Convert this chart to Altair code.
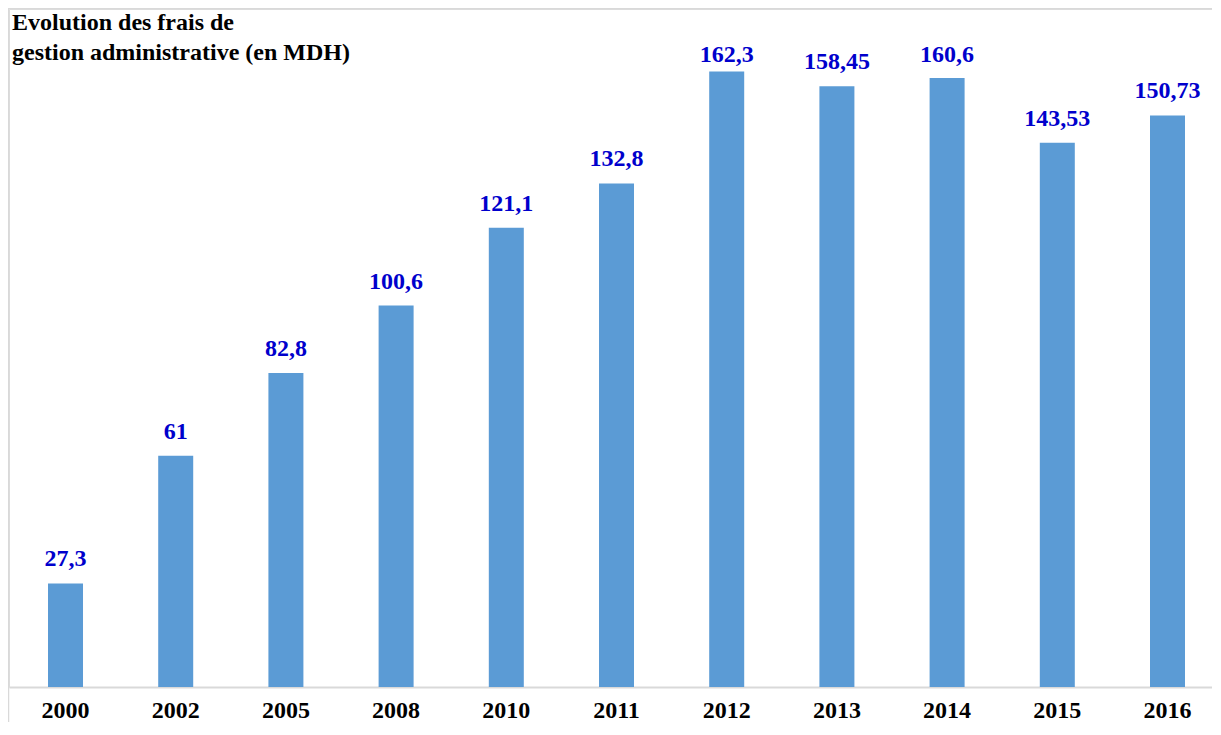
import altair as alt
import pandas as pd

years = ["2000", "2002", "2005", "2008", "2010", "2011", "2012", "2013", "2014", "2015", "2016"]
values = [27.3, 61, 82.8, 100.6, 121.1, 132.8, 162.3, 158.45, 160.6, 143.53, 150.73]
labels = ["27,3", "61", "82,8", "100,6", "121,1", "132,8", "162,3", "158,45", "160,6", "143,53", "150,73"]
title_lines = ["Evolution des frais de", "gestion administrative (en MDH)"]

df = pd.DataFrame({"year": years, "value": values, "label": labels})
one = pd.DataFrame({"k": [0]})

W, H = 1203, 678
FONT = "Liberation Serif"

xscale = alt.Scale(paddingInner=0.6824, paddingOuter=0.2995, align=0.591)
yscale = alt.Scale(domain=[0, 178.8], nice=False, zero=True)

base = alt.Chart(df)

bars = base.mark_bar(color="#5B9BD5").encode(
    x=alt.X("year:N", sort=years, scale=xscale,
            axis=alt.Axis(title=None, labelAngle=0, ticks=False, domain=True,
                          domainColor="#D9D9D9", domainWidth=2,
                          labelFont=FONT, labelFontSize=24, labelFontWeight="bold",
                          labelColor="black", labelBaseline="alphabetic", labelPadding=30,
                          grid=False)),
    y=alt.Y("value:Q", scale=yscale, axis=None),
)

texts = base.transform_calculate(
    ly="min(datum.value + 4.48, 164.8)"
).mark_text(
    font=FONT, fontSize=24, fontWeight="bold", color="#0000CC",
    baseline="alphabetic", align="center"
).encode(
    x=alt.X("year:N", sort=years, scale=xscale),
    y=alt.Y("ly:Q", scale=yscale),
    text="label:N",
)

title = alt.Chart(one).mark_text(
    text=title_lines, font=FONT, fontSize=24, fontWeight="bold", color="black",
    align="left", baseline="alphabetic", lineHeight=30
).encode(x=alt.value(3), y=alt.value(21))

left_border = alt.Chart(one).mark_rule(color="#D9D9D9", strokeWidth=1.5).encode(
    x=alt.value(-0.5), y=alt.value(-1), y2=alt.value(716)
)
top_border = alt.Chart(one).mark_rule(color="#D9D9D9", strokeWidth=1.5).encode(
    x=alt.value(-1), x2=alt.value(W + 2), y=alt.value(-0.5)
)

chart = alt.layer(bars, texts, title, left_border, top_border).properties(
    width=W, height=H,
    autosize=alt.AutoSizeParams(type="none"),
    padding={"left": 1, "top": 1, "right": 0, "bottom": 35},
).configure_view(stroke=None).configure(background="white")

chart.save("out.html", embed_options={"renderer": "svg", "actions": False})
